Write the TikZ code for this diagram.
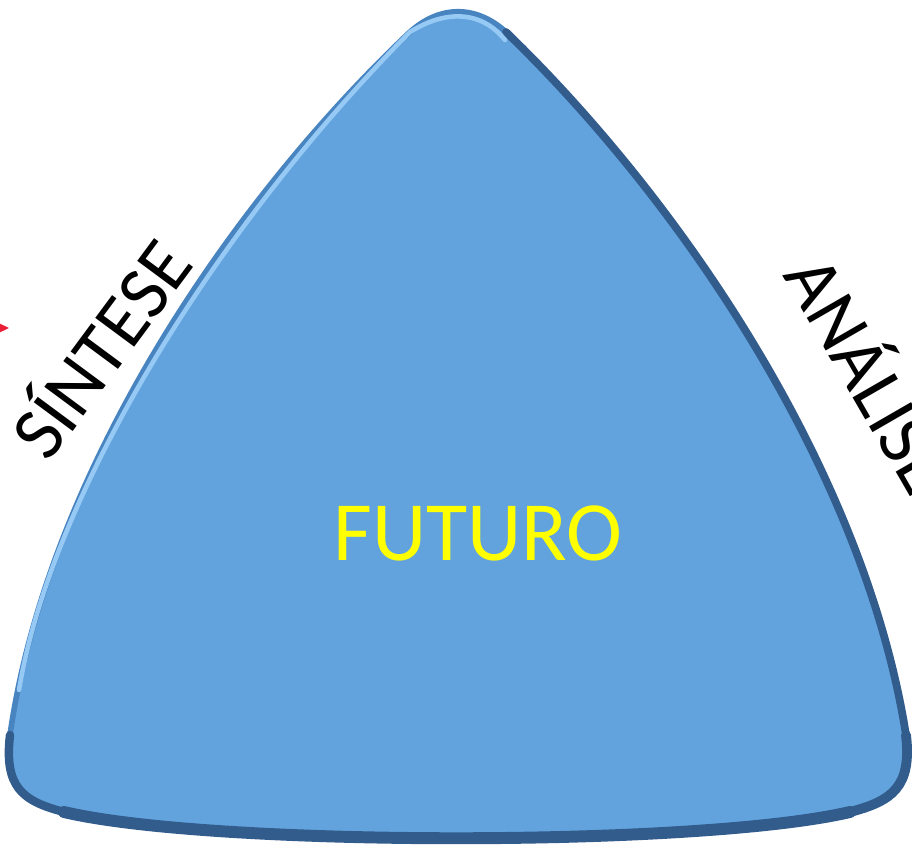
\documentclass[tikz,border=0pt]{standalone}
\usepackage{fontspec}
\setmainfont{Carlito}
\usepackage{tikz}
\usetikzlibrary{positioning}

\definecolor{face}{RGB}{98,163,222}
\definecolor{rim}{RGB}{50,92,140}
\definecolor{softrim}{RGB}{72,132,192}
\definecolor{glint}{RGB}{150,202,245}
\definecolor{futyellow}{RGB}{255,255,0}
\definecolor{tipred}{RGB}{235,30,55}

\begin{document}
\begin{tikzpicture}[word/.style={font=\fontsize{21.5}{26}\selectfont, text=black, inner sep=0pt}, center/.style={font=\fontsize{24}{28}\selectfont, text=futyellow, inner sep=0pt}]
\useasboundingbox (0,0) rectangle (9.12,8.45);
% corners of the rounded triangle
\coordinate (T1) at (4.10,8.13);
\coordinate (T2) at (5.06,8.13);
\coordinate (R) at (9.06,1.10);
\coordinate (BR) at (8.50,0.33);
\coordinate (BL) at (0.64,0.33);
\coordinate (L) at (0.10,1.10);
% soft shadow
\foreach \s/\o in {0.07/0.08,0.05/0.12,0.03/0.18}
  \fill [black, opacity=\o, shift={(0.01,-\s)}] (T1) .. controls (4.40,8.40) and (4.76,8.40) .. (T2) .. controls (6.85,6.40) and (8.65,3.70) .. (R) .. controls (9.12,0.58) and (8.92,0.44) .. (BR) .. controls (7.00,-0.02) and (2.12,-0.02) .. (BL) .. controls (0.22,0.44) and (0.04,0.58) .. (L) .. controls (0.47,3.70) and (2.27,6.40) .. (T1) -- cycle;
% body
\path [fill=face, draw=softrim, line width=1.6pt] (T1) .. controls (4.40,8.40) and (4.76,8.40) .. (T2) .. controls (6.85,6.40) and (8.65,3.70) .. (R) .. controls (9.12,0.58) and (8.92,0.44) .. (BR) .. controls (7.00,-0.02) and (2.12,-0.02) .. (BL) .. controls (0.22,0.44) and (0.04,0.58) .. (L) .. controls (0.47,3.70) and (2.27,6.40) .. (T1) -- cycle;
% darker rim on the right and along the bottom
\draw [rim, line width=2.2pt, line cap=round] (T2) .. controls (6.85,6.40) and (8.65,3.70) .. (R);
\draw [rim, line width=2.8pt, line cap=round] (R) .. controls (9.12,0.58) and (8.92,0.44) .. (BR);
\draw [rim, line width=2.4pt, line cap=round] (BL) .. controls (0.22,0.44) and (0.04,0.58) .. (L);
\draw [rim, line width=3.4pt, line cap=round] (BR) .. controls (7.00,-0.02) and (2.12,-0.02) .. (BL);
% light bevel on the upper left
\draw [glint, line width=1.3pt, line cap=round, shift={(0.05,-0.05)}] (0.14,1.6) .. controls (0.49,3.70) and (2.27,6.40) .. (T1) .. controls (4.40,8.40) and (4.76,8.40) .. (5.00,8.10);
% red tip at the left edge
\fill [tipred] (-0.14,5.28) -- (0.09,5.17) -- (-0.14,5.06) -- cycle;
% labels
\node (FUTURO) [center] at (4.78,3.12) {FUTURO};
\node (SINTESE) [word, rotate=53.5] at (0.97,4.99) {SÍNTESE};
\node (ANALISE) [word, rotate=-60] at (8.74,4.73) {ANÁLISE};
\end{tikzpicture}
\end{document}
